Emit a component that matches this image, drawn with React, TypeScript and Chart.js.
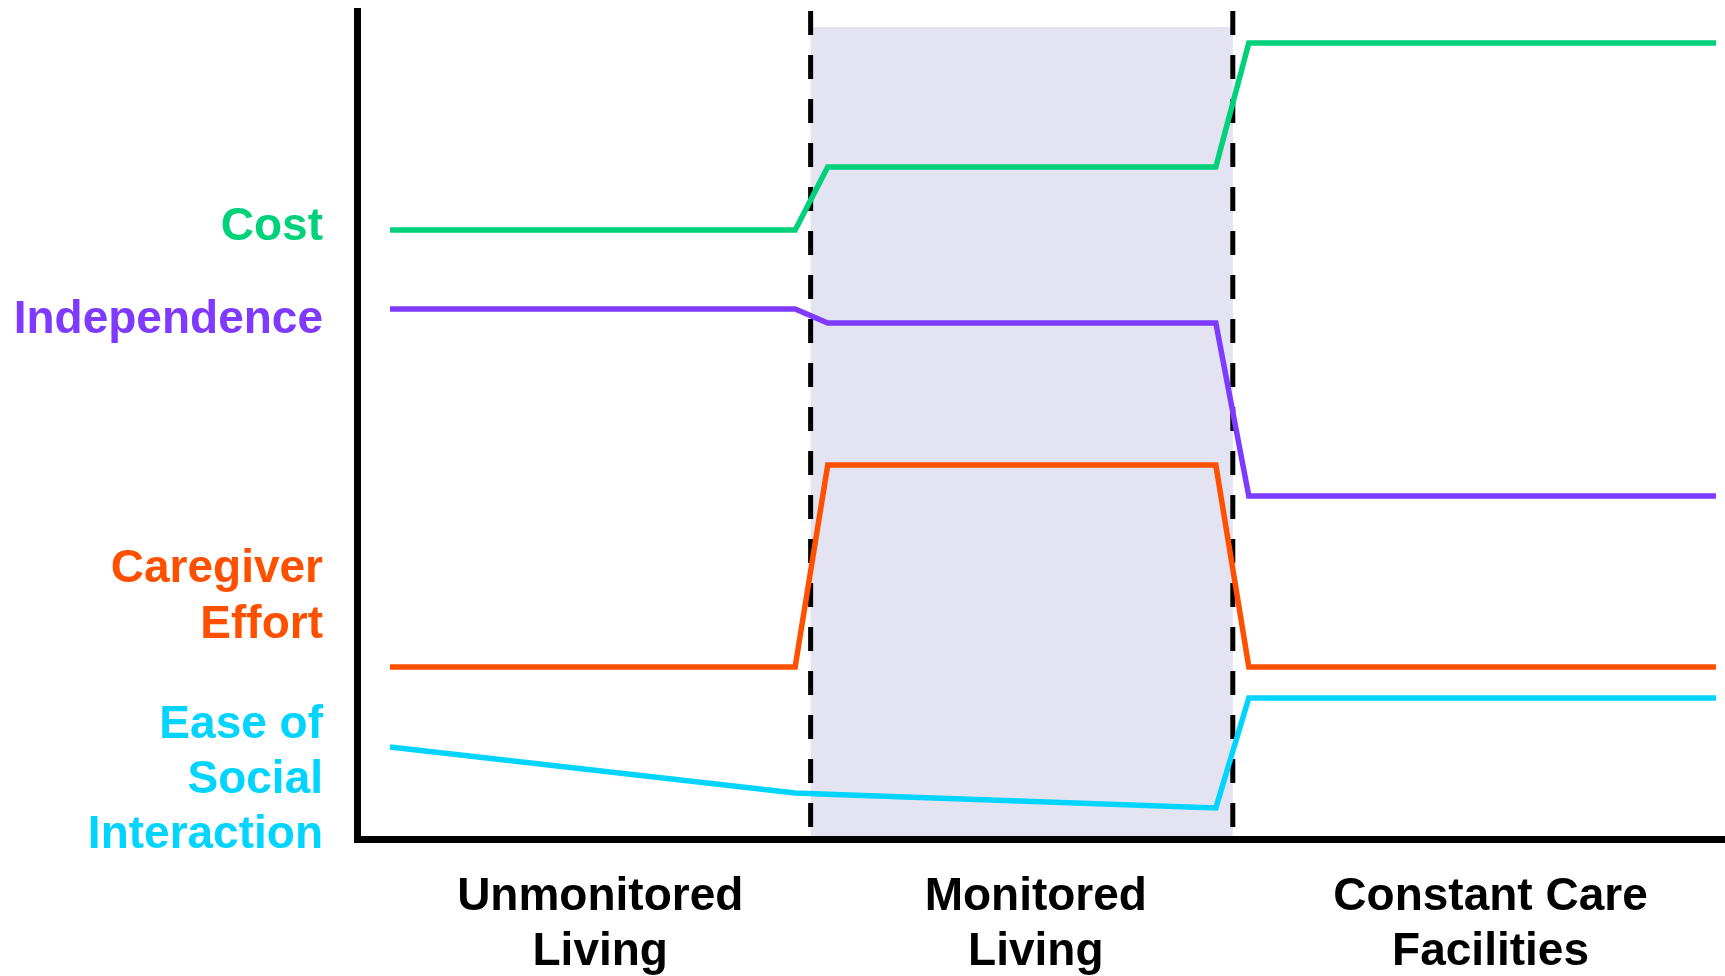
import React, { useEffect, useRef } from "react";
import { Chart, registerables } from "chart.js";

Chart.register(...registerables);

// Horizontal positions of the breakpoints (0 = y axis, 100 = right edge)
const stagePositions = [2.41, 32.03, 34.41, 62.78, 65.19, 99.34];

// Series values (0 = x axis, 100 = top of y axis)
const costValues = [73.55, 73.55, 81.16, 81.16, 96.14, 96.14];
const independenceValues = [64.01, 64.01, 62.32, 62.32, 41.43, 41.43];
const caregiverValues = [20.77, 20.77, 45.17, 45.17, 20.77, 20.77];
const easeValues = [11.11, 5.56, 5.4, 3.74, 17.03, 17.03];

const seriesNames = ["Cost", "Independence", "Caregiver Effort", "Ease of Social Interaction"];
const seriesColors = ["#00d17a", "#7f3aff", "#ff5000", "#00d4ff"];

// Y-axis labels (series names) and where they sit, bottom to top
const seriesLabels = [["Ease of", "Social", "Interaction"], ["Caregiver", "Effort"], ["Independence"], ["Cost"]];
const seriesLabelColors = ["#00d4ff", "#ff5000", "#7f3aff", "#00d17a"];
const seriesLabelLevels = [7.1, 29.2, 62.6, 73.85];

// X-axis category labels and centers
const categoryLabels = [["Unmonitored", "Living"], ["Monitored", "Living"], ["Constant Care", "Facilities"]];
const categoryCenters = [17.78, 49.62, 82.86];

// Monitored Living band
const monitoredStart = 33.16;
const monitoredEnd = 64.02;
const monitoredTop = 98.07;

const FONT = '"Liberation Sans", Arial, Helvetica, sans-serif';

const monitoredBand = {
  id: "monitoredBand",
  beforeDatasetsDraw(chart: any) {
    const { ctx, chartArea, scales } = chart;
    const x = scales.x;
    const y = scales.y;
    const x0 = x.getPixelForValue(monitoredStart);
    const x1 = x.getPixelForValue(monitoredEnd);
    const yt = y.getPixelForValue(monitoredTop);
    const yb = chartArea.bottom - 3;
    ctx.save();
    ctx.fillStyle = "#e3e3f1";
    ctx.fillRect(x0, yt, x1 - x0, yb - yt);
    ctx.strokeStyle = "#000";
    ctx.lineWidth = 5;
    ctx.setLineDash([24, 20]);
    for (const xv of [x0, x1]) {
      ctx.beginPath();
      ctx.moveTo(xv, chartArea.top);
      ctx.lineTo(xv, yb);
      ctx.stroke();
    }
    ctx.restore();
  },
};

export default function App() {
  const canvasRef = useRef<HTMLCanvasElement | null>(null);

  useEffect(() => {
    if (!canvasRef.current) return;
    const seriesValues = [costValues, independenceValues, caregiverValues, easeValues];
    const chart = new Chart(canvasRef.current, {
      type: "line",
      data: {
        datasets: seriesValues.map((vals, i) => ({
          label: seriesNames[i],
          data: vals.map((v, j) => ({ x: stagePositions[j], y: v })),
          borderColor: seriesColors[i],
          borderWidth: 5.5,
          pointRadius: 0,
          tension: 0,
          fill: false,
          borderJoinStyle: "miter" as const,
          borderCapStyle: "butt" as const,
        })),
      },
      options: {
        responsive: false,
        animation: false,
        devicePixelRatio: 1,
        layout: { padding: { top: 11, left: 0, right: 0, bottom: 0 } },
        plugins: {
          legend: { display: false },
          tooltip: { enabled: false },
        },
        scales: {
          x: {
            type: "linear",
            min: 0,
            max: 100,
            grid: { display: false, drawTicks: false },
            border: { display: true, color: "#000", width: 7 },
            afterBuildTicks: (s: any) => {
              s.ticks = categoryCenters.map((v) => ({ value: v }));
            },
            afterFit: (s: any) => {
              s.height = 137;
              s.paddingLeft = 0;
              s.paddingRight = 0;
              s.paddingTop = 0;
              s.paddingBottom = 0;
            },
            ticks: {
              autoSkip: false,
              maxRotation: 0,
              minRotation: 0,
              padding: 31,
              color: "#000",
              font: { family: FONT, size: 46, weight: "bold", lineHeight: 1.2 },
              callback: (_v: any, i: number) => categoryLabels[i],
            },
          },
          y: {
            type: "linear",
            min: 0,
            max: 100,
            grid: { display: false, drawTicks: false },
            border: { display: true, color: "#000", width: 7 },
            afterBuildTicks: (s: any) => {
              s.ticks = seriesLabelLevels.map((v) => ({ value: v }));
            },
            afterFit: (s: any) => {
              s.width = 357;
              s.paddingLeft = 0;
              s.paddingRight = 0;
              s.paddingTop = 0;
              s.paddingBottom = 0;
            },
            ticks: {
              autoSkip: false,
              padding: 34,
              color: (c: any) => seriesLabelColors[c.index] || "#000",
              font: { family: FONT, size: 46, weight: "bold", lineHeight: 1.2 },
              callback: (_v: any, i: number) => seriesLabels[i],
            },
          },
        },
      } as any,
      plugins: [monitoredBand],
    });
    return () => chart.destroy();
  }, []);

  return (
    <div style={{ position: "absolute", left: 0, top: 0, width: 1725, height: 976, background: "#fff" }}>
      <canvas ref={canvasRef} width={1725} height={976} style={{ display: "block" }} />
    </div>
  );
}
